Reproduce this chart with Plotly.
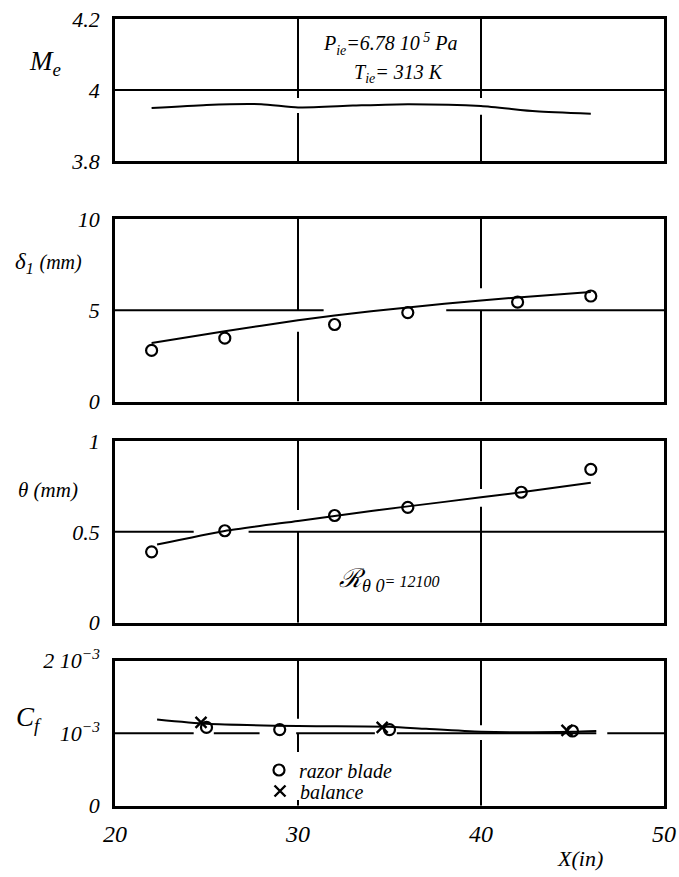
import plotly.graph_objects as go

# ---------------- data ----------------
x_me = [22, 25, 28, 30, 33, 36, 40, 43, 46]
me = [3.949, 3.958, 3.960, 3.951, 3.956, 3.960, 3.955, 3.940, 3.933]

x_d1_pts = [22, 26, 32, 36, 42, 46]
d1_pts = [2.8, 3.47, 4.22, 4.87, 5.45, 5.78]
x_d1_fit = [22, 26, 30, 34, 38, 42, 46]
d1_fit = [3.2, 3.85, 4.45, 4.95, 5.35, 5.7, 6.0]

x_th_pts = [22, 26, 32, 36, 42.2, 46]
th_pts = [0.39, 0.506, 0.59, 0.635, 0.718, 0.844]
x_th_fit = [22.3, 26, 30, 34, 38, 42, 46]
th_fit = [0.43, 0.505, 0.56, 0.615, 0.665, 0.715, 0.77]

x_cf_razor = [25, 29, 35, 45]
cf_razor = [1.08e-3, 1.05e-3, 1.05e-3, 1.03e-3]
x_cf_bal = [24.7, 34.6, 44.7]
cf_bal = [1.15e-3, 1.08e-3, 1.04e-3]
x_cf_fit = [22.3, 25, 30, 35, 37, 40, 45, 46.3]
cf_fit = [1.19e-3, 1.13e-3, 1.10e-3, 1.09e-3, 1.06e-3, 1.02e-3, 1.02e-3, 1.03e-3]

x_ticks = [20, 30, 40, 50]
x_ticklabels = ["20", "30", "40", "50"]
me_ticks = [3.8, 4.0, 4.2]
me_ticklabels = ["3.8", "4", "4.2"]
d1_ticks = [0, 5, 10]
d1_ticklabels = ["0", "5", "10"]
th_ticks = [0, 0.5, 1]
th_ticklabels = ["0", "0.5", "1"]
cf_ticks = [0, 1e-3, 2e-3]
cf_ticklabels = ["0", "10<sup>\u22123</sup>", "2 10<sup>\u22123</sup>"]

# ---------------- figure ----------------
W, H = 679, 877
FONT = "Liberation Serif"
ink = "black"


def px_y(top, bottom):
    return [1 - bottom / H, 1 - top / H]


xdom = [115 / W, 664 / W]
panels = [
    # (axis suffix, top px, bottom px, range, ticks, labels)
    ("", 660.7, 805.7, [0, 2e-3], cf_ticks, cf_ticklabels),
    ("2", 441, 622.7, [0, 1], th_ticks, th_ticklabels),
    ("3", 219, 401.5, [0, 10], d1_ticks, d1_ticklabels),
    ("4", 19, 161, [3.8, 4.2], me_ticks, me_ticklabels),
]

fig = go.Figure()
line_style = dict(color=ink, width=2, shape="spline", smoothing=0.6)
circ = dict(symbol="circle-open", size=11, color=ink, line=dict(width=2.2, color=ink))
crs = dict(symbol="x-thin-open", size=11, color=ink, line=dict(width=2.4, color=ink))

fig.add_trace(go.Scatter(x=x_me, y=me, mode="lines", line=line_style,
                         xaxis="x4", yaxis="y4", showlegend=False))
fig.add_trace(go.Scatter(x=x_d1_fit, y=d1_fit, mode="lines", line=line_style,
                         xaxis="x3", yaxis="y3", showlegend=False))
fig.add_trace(go.Scatter(x=x_d1_pts, y=d1_pts, mode="markers", marker=circ,
                         xaxis="x3", yaxis="y3", showlegend=False))
fig.add_trace(go.Scatter(x=x_th_fit, y=th_fit, mode="lines", line=line_style,
                         xaxis="x2", yaxis="y2", showlegend=False))
fig.add_trace(go.Scatter(x=x_th_pts, y=th_pts, mode="markers", marker=circ,
                         xaxis="x2", yaxis="y2", showlegend=False))
fig.add_trace(go.Scatter(x=x_cf_fit, y=cf_fit, mode="lines", line=line_style,
                         xaxis="x", yaxis="y", showlegend=False))
fig.add_trace(go.Scatter(x=x_cf_razor, y=cf_razor, mode="markers", marker=circ,
                         name="<i>razor blade</i>", xaxis="x", yaxis="y", legend="legend"))
fig.add_trace(go.Scatter(x=x_cf_bal, y=cf_bal, mode="markers", marker=crs,
                         name="<i>balance</i>", xaxis="x", yaxis="y", legend="legend2"))

ytickfont = dict(family=FONT, size=22, color=ink, style="italic")
xtickfont = dict(family=FONT, size=24, color=ink, style="italic")
legfont = dict(family=FONT, size=20, color=ink, style="italic")
leg_common = dict(xanchor="left", yanchor="middle", bgcolor="rgba(0,0,0,0)",
                  itemwidth=30, borderwidth=0, font=legfont, tracegroupgap=0)
layout = dict(
    width=W, height=H,
    margin=dict(l=0, r=0, t=0, b=0, autoexpand=False),
    paper_bgcolor="white", plot_bgcolor="white",
    showlegend=True,
    legend=dict(x=259 / W, y=1 - 770 / H, **leg_common),
    legend2=dict(x=260 / W, y=1 - 791 / H, **leg_common),
)
for suf, top, bot, rng, tv, tt in panels:
    xa = dict(domain=xdom, range=[20, 50], tickvals=x_ticks,
              ticktext=["<i>%s</i>" % t for t in x_ticklabels],
              showgrid=False, zeroline=False, automargin=False,
              showline=True, mirror=True, linecolor=ink, linewidth=2.5,
              ticks="", tickfont=xtickfont, showticklabels=(suf == ""),
              anchor="y" + suf, ticklabelstandoff=5)
    ya = dict(domain=px_y(top, bot), range=rng, tickvals=tv,
              ticktext=["<i>%s</i>" % t for t in tt],
              showgrid=False, zeroline=False, automargin=False,
              showline=True, mirror=True, linecolor=ink, linewidth=2.5,
              ticks="", tickfont=ytickfont, anchor="x" + suf, ticklabelstandoff=8)
    layout["xaxis" + suf] = xa
    layout["yaxis" + suf] = ya
fig.update_layout(**layout)

# ---- grid lines drawn as segments (the original drawing interrupts them near the curves)
GRID = dict(color=ink, width=2)


def hseg(axis, y, spans):
    for a, b in spans:
        fig.add_shape(type="line", xref="x" + axis, yref="y" + axis,
                      x0=a, x1=b, y0=y, y1=y, line=GRID, layer="below")


def vseg(axis, x, spans):
    for a, b in spans:
        fig.add_shape(type="line", xref="x" + axis, yref="y" + axis,
                      x0=x, x1=x, y0=a, y1=b, line=GRID, layer="below")


# Me panel
hseg("4", 4.0, [(20, 50)])
vseg("4", 30, [(3.8, 3.935), (3.9775, 4.2)])
vseg("4", 40, [(3.8, 3.93), (3.9775, 4.2)])
# delta1 panel
hseg("3", 5, [(20, 31.4), (38.1, 50)])
vseg("3", 30, [(0, 3.82), (5.0, 10)])
vseg("3", 40, [(0, 5.0), (6.2, 10)])
# theta panel
hseg("2", 0.5, [(20, 24.3), (27.3, 50)])
vseg("2", 30, [(0, 0.5), (0.62, 1)])
vseg("2", 40, [(0, 0.638), (0.736, 1)])
# Cf panel
hseg("", 1e-3, [(20, 24.3), (25.4, 27.9), (29.9, 34.2), (35.4, 46.3), (46.9, 50)])
vseg("", 30, [(0, 0.08e-3), (0.74e-3, 1.0e-3), (1.2e-3, 2e-3)])
vseg("", 40, [(0, 0.906e-3), (1.11e-3, 2e-3)])


def ann(text, x, y, size, xanchor="center", **kw):
    fig.add_annotation(text=text, x=x / W, y=1 - y / H, xref="paper", yref="paper",
                       showarrow=False, xanchor=xanchor, yanchor="middle",
                       font=dict(family=FONT, size=size, color=ink, style="italic"), **kw)


# axis titles
ann("<i>M<sub>e</sub></i>", 45, 63, 27)
ann("<i>\u03b4<sub>1</sub> <span style='font-size:20px'>(mm)</span></i>", 48, 263, 23)
ann("<i>\u03b8 (mm)</i>", 48, 490, 21)
ann("<i>C<sub>f</sub></i>", 29, 719, 27)
ann("<i>X(in)</i>", 580, 858, 22)

# panel texts
ann("<i>P<sub>ie</sub>=6.78 10<sup> 5</sup> Pa</i>", 391, 44, 20)
ann("<i>T<sub>ie</sub>= 313 K</i>", 399, 73, 20)
ann("<i>\u211b<sub>\u03b8 0</sub><span style='font-size:16px'>= 12100</span></i>", 389, 580, 26)

fig.write_html("out.html")
